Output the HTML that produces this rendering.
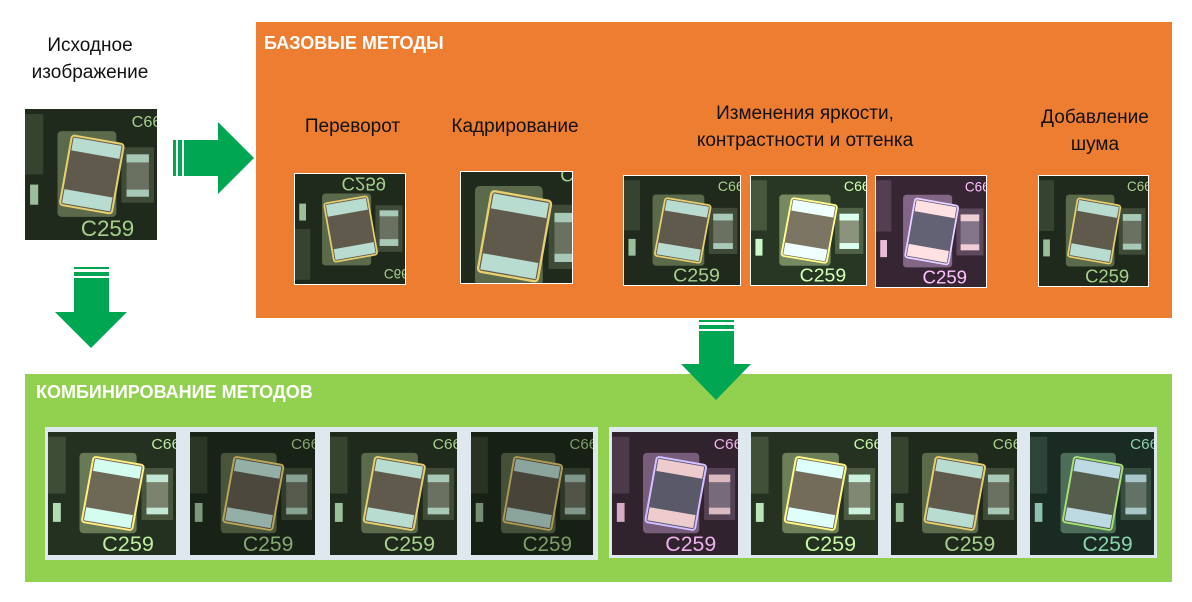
<!DOCTYPE html>
<html><head><meta charset="utf-8"><style>
body{margin:0;width:1192px;height:602px;background:#fff;position:relative;overflow:hidden;font-family:"Liberation Sans",sans-serif}
.t{position:absolute;font-size:19px;color:#111;text-align:center;line-height:27px}
.h{position:absolute;color:#fff;font-weight:bold;font-size:18px}
svg.i{position:absolute}
</style></head><body>
<svg width="0" height="0" style="position:absolute"><defs>
<symbol id="pcb" viewBox="0 0 130 130" preserveAspectRatio="none">
<rect width="130" height="130" fill="#1f2a1c"/>
<rect x="0" y="5" width="18" height="60" fill="#36432f"/>
<rect x="32" y="22" width="58" height="85" rx="4" fill="#5a6a4a"/>
<rect x="95" y="38" width="32" height="55" fill="#3f4b36"/>
<rect x="100" y="45" width="22" height="42" fill="#6b7160"/>
<rect x="100" y="45" width="22" height="8" fill="#a9c9b8"/>
<rect x="100" y="80" width="22" height="7" fill="#a9c9b8"/>
<g transform="rotate(10 66 64)">
<rect x="40" y="30" width="52" height="70" rx="3" fill="#605a4c" stroke="#e8d070" stroke-width="2"/>
<rect x="42" y="32" width="48" height="13" fill="#b9dcd0"/>
<rect x="42" y="84" width="48" height="14" fill="#b9dcd0"/>
</g>
<text x="55" y="126" font-family="Liberation Sans" font-size="22" fill="#a7cf8c">C259</text>
<text x="105" y="18" font-family="Liberation Sans" font-size="16" fill="#a7cf8c">C66</text>
<rect x="5" y="75" width="8" height="20" fill="#9bbf9a"/>
</symbol>
</defs></svg>

<div class="t" style="left:20px;top:32px;width:140px">Исходное<br>изображение</div>
<svg class="i" style="left:25px;top:109px" width="132" height="131"><use href="#pcb" width="132" height="131"/></svg>

<svg class="i" style="left:170px;top:120px" width="90" height="76"><rect x="3" y="20" width="3" height="36" fill="#00a651"/><rect x="8" y="20" width="4" height="36" fill="#00a651"/><polygon points="14,20 48,20 48,2 84,38 48,74 48,56 14,56" fill="#00a651"/></svg>
<svg class="i" style="left:52px;top:264px" width="80" height="88"><rect x="22" y="3" width="35" height="2" fill="#00a651"/><rect x="22" y="8" width="35" height="4" fill="#00a651"/><polygon points="22,14 57,14 57,48 75,48 39,84 3,48 22,48" fill="#00a651"/></svg>

<div style="position:absolute;left:256px;top:22px;width:916px;height:296px;background:#ed7d31"></div>
<div class="h" style="left:264px;top:33px">БАЗОВЫЕ МЕТОДЫ</div>
<div class="t" style="left:280px;top:113px;width:145px">Переворот</div>
<div class="t" style="left:430px;top:113px;width:170px">Кадрирование</div>
<div class="t" style="left:660px;top:100px;width:290px">Изменения яркости,<br>контрастности и оттенка</div>
<div class="t" style="left:1020px;top:104px;width:150px">Добавление<br>шума</div>
<svg class="i" style="left:294px;top:173px;background:#fff;padding:1px" width="110" height="110"><g transform="translate(0,110) scale(1,-1)"><use href="#pcb" width="110" height="110"/></g></svg>
<svg class="i" style="left:460px;top:171px;background:#fff;padding:1px" width="111" height="111" viewBox="20 10 95 95"><use href="#pcb" width="130" height="130"/></svg>
<svg class="i" style="left:623px;top:175px;background:#fff;padding:1px" width="116" height="109"><use href="#pcb" width="116" height="109"/></svg>
<svg class="i" style="left:750px;top:175px;background:#fff;padding:1px" width="115" height="109"><use href="#pcb" width="115" height="109" style="filter:brightness(1.3)"/></svg>
<svg class="i" style="left:875px;top:175px;background:#fff;padding:1px" width="110" height="111"><use href="#pcb" width="110" height="111" style="filter:hue-rotate(200deg) brightness(1.1)"/></svg>
<svg class="i" style="left:1038px;top:175px;background:#fff;padding:1px" width="109" height="110"><use href="#pcb" width="109" height="110"/></svg>

<div style="position:absolute;left:25px;top:374px;width:1147px;height:208px;background:#92d050"></div>
<div class="h" style="left:36px;top:382px">КОМБИНИРОВАНИЕ МЕТОДОВ</div>
<div style="position:absolute;left:45px;top:427px;width:553px;height:133px;background:#dfe7ef"></div>
<div style="position:absolute;left:609px;top:427px;width:548px;height:131px;background:#dfe7ef"></div>
<svg class="i" style="left:48px;top:432px" width="128" height="123"><use href="#pcb" width="128" height="123" style="filter:brightness(1.15)"/></svg>
<svg class="i" style="left:190px;top:432px" width="125" height="123"><use href="#pcb" width="125" height="123" style="filter:brightness(0.8)"/></svg>
<svg class="i" style="left:330px;top:432px" width="127" height="123"><use href="#pcb" width="127" height="123"/></svg>
<svg class="i" style="left:471px;top:432px" width="122" height="123"><use href="#pcb" width="122" height="123" style="filter:brightness(0.75)"/></svg>
<svg class="i" style="left:612px;top:432px" width="126" height="123"><use href="#pcb" width="126" height="123" style="filter:hue-rotate(200deg)"/></svg>
<svg class="i" style="left:751px;top:432px" width="127" height="123"><use href="#pcb" width="127" height="123" style="filter:brightness(1.2)"/></svg>
<svg class="i" style="left:891px;top:432px" width="126" height="123"><use href="#pcb" width="126" height="123"/></svg>
<svg class="i" style="left:1030px;top:432px" width="124" height="123"><use href="#pcb" width="124" height="123" style="filter:hue-rotate(40deg)"/></svg>

<svg class="i" style="left:676px;top:318px" width="80" height="86"><rect x="23" y="2" width="35" height="2" fill="#00a651"/><rect x="23" y="7" width="35" height="4" fill="#00a651"/><polygon points="23,13 58,13 58,46 75,46 40,82 5,46 23,46" fill="#00a651"/></svg>
</body></html>
